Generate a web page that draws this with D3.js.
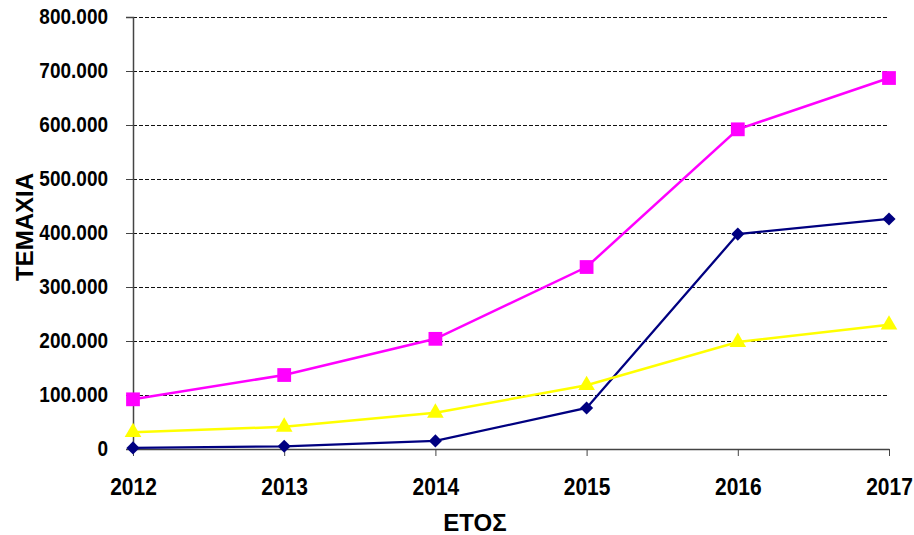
<!DOCTYPE html>
<html>
<head>
<meta charset="utf-8">
<script src="https://cdnjs.cloudflare.com/ajax/libs/d3/7.8.5/d3.min.js"></script>
<style>
  body { margin: 0; background: #fff; }
  text { font-family: "Liberation Sans", Arial, sans-serif; font-weight: bold; fill: #000; }
</style>
</head>
<body>
<svg id="chart" width="914" height="535"></svg>
<script>
// years on the x axis
var years = ["2012", "2013", "2014", "2015", "2016", "2017"];
// three series (pieces)
var navySeries = [2000, 5000, 15000, 76000, 398000, 426000];
var magentaSeries = [92000, 137000, 204000, 337000, 592000, 687000];
var yellowSeries = [31000, 41000, 67000, 118000, 198000, 230000];
var yTicks = [0, 100000, 200000, 300000, 400000, 500000, 600000, 700000, 800000];

var svg = d3.select("#chart");
var plotLeft = 133, plotRight = 889, plotTop = 17, plotBottom = 449;

var x = d3.scalePoint().domain(years).range([plotLeft, plotRight]);
var y = d3.scaleLinear().domain([0, 800000]).range([plotBottom, plotTop]);

var greek = d3.formatLocale({ decimal: ",", thousands: ".", grouping: [3], currency: ["", "€"] });
var fmt = greek.format(",");

// gridlines
svg.append("g").selectAll("line")
  .data(yTicks.filter(function(d) { return d > 0; }))
  .join("line")
  .attr("x1", plotLeft).attr("x2", plotRight)
  .attr("y1", function(d) { return y(d) + 0.5; })
  .attr("y2", function(d) { return y(d) + 0.5; })
  .attr("stroke", "#111")
  .attr("stroke-width", 1)
  .attr("stroke-dasharray", "4,2")
  .attr("shape-rendering", "crispEdges");

// y axis
var yAxis = svg.append("g")
  .attr("transform", "translate(" + plotLeft + ",0)")
  .call(d3.axisLeft(y).tickValues(yTicks).tickSize(7).tickPadding(18).tickFormat(fmt));
yAxis.select(".domain").attr("stroke", "#444").attr("stroke-width", 1.5);
yAxis.selectAll(".tick line").attr("stroke", "#444");
yAxis.selectAll(".tick text")
  .attr("font-size", 19)
  .attr("font-family", "Liberation Sans, Arial, sans-serif")
  .attr("font-weight", "bold")
  .attr("fill", "#000")
  .attr("dy", "0.3em")
  .attr("transform", "scale(1,1.12)");

// x axis
var xAxis = svg.append("g")
  .attr("transform", "translate(0," + plotBottom + ")")
  .call(d3.axisBottom(x).tickSize(7).tickPadding(0).tickSizeOuter(0));
xAxis.select(".domain").attr("stroke", "#444").attr("stroke-width", 1.5);
xAxis.selectAll(".tick line").attr("stroke", "#444");
xAxis.selectAll(".tick text")
  .attr("font-size", 21)
  .attr("font-family", "Liberation Sans, Arial, sans-serif")
  .attr("font-weight", "bold")
  .attr("fill", "#000")
  .attr("dy", null)
  .attr("transform", "scale(1,1.12)")
  .attr("y", 46 / 1.12);

// series
var series = [
  { values: navySeries, color: "#000080", symbol: d3.symbolDiamond2, size: 110, width: 2.3 },
  { values: magentaSeries, color: "#FF00FF", symbol: d3.symbolSquare, size: 190, width: 2.5 },
  { values: yellowSeries, color: "#FFFF00", symbol: d3.symbolTriangle, size: 120, width: 2.5 }
];

var line = d3.line()
  .x(function(d, i) { return x(years[i]); })
  .y(function(d) { return y(d); });

series.forEach(function(s) {
  var g = svg.append("g");
  g.append("path")
    .attr("d", line(s.values))
    .attr("fill", "none")
    .attr("stroke", s.color)
    .attr("stroke-width", s.width);
  g.selectAll("path.m")
    .data(s.values)
    .join("path")
    .attr("class", "m")
    .attr("transform", function(d, i) { return "translate(" + x(years[i]) + "," + y(d) + ")"; })
    .attr("d", d3.symbol().type(s.symbol).size(s.size))
    .attr("fill", s.color);
});

// axis titles
svg.append("text")
  .attr("transform", "translate(33,227) rotate(-90)")
  .attr("text-anchor", "middle")
  .attr("font-size", 24)
  .text("ΤΕΜΑΧΙΑ");

svg.append("text")
  .attr("x", 475)
  .attr("y", 531)
  .attr("text-anchor", "middle")
  .attr("font-size", 24)
  .text("ΕΤΟΣ");
</script>
</body>
</html>
